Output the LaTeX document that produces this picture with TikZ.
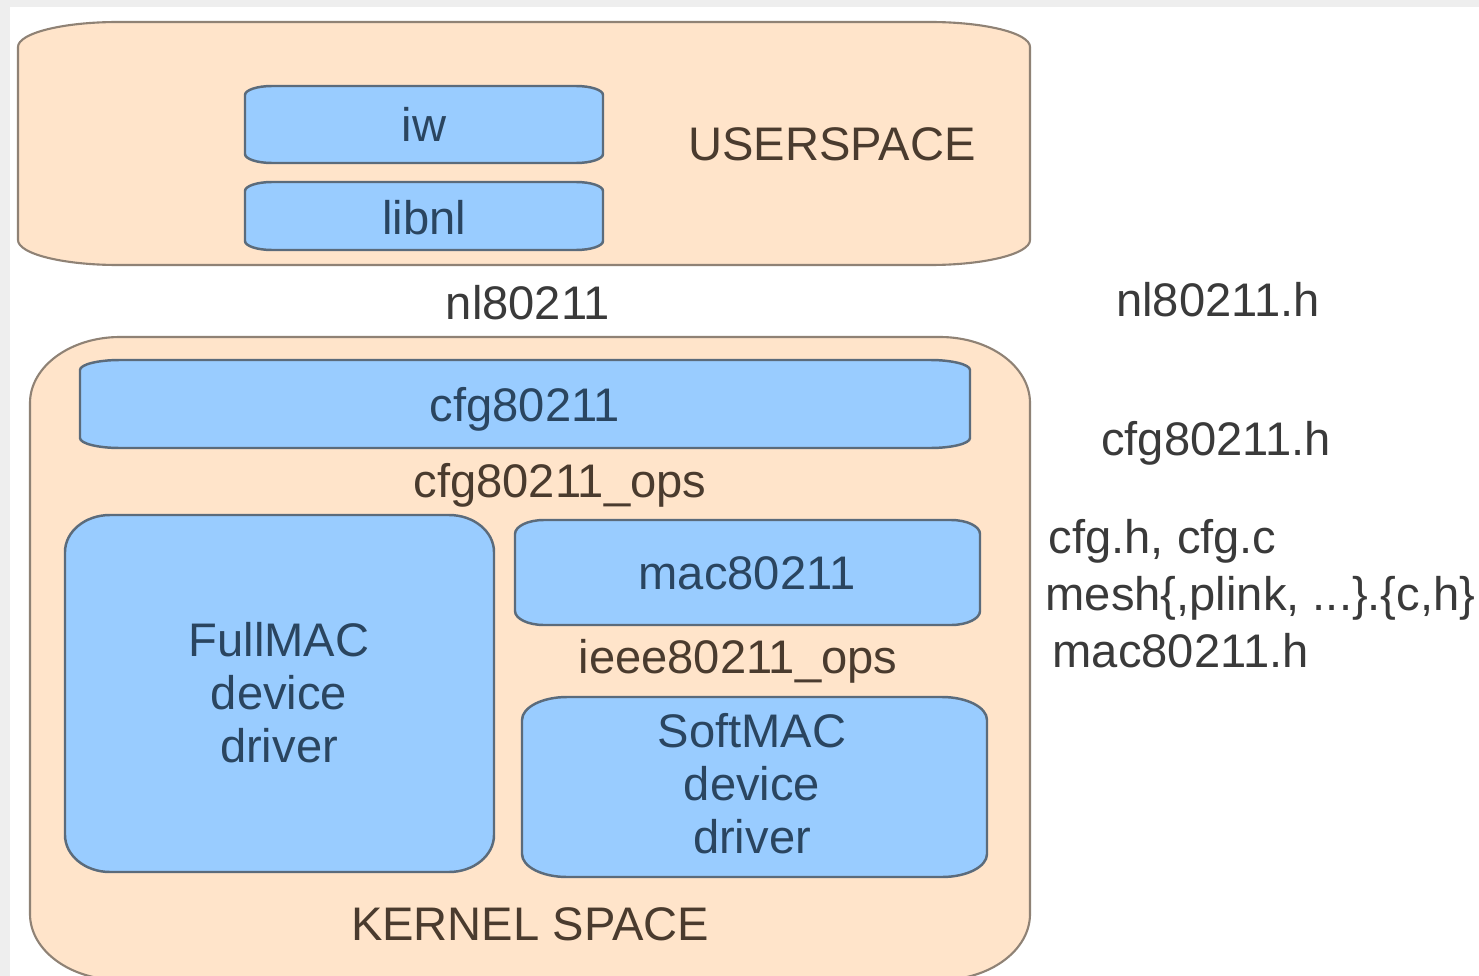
\documentclass[tikz,border=0pt]{standalone}
\usepackage{fontspec}
\setmainfont{Liberation Sans}
\usepackage{tikz}

\definecolor{peachfill}{HTML}{FFE4CA}
\definecolor{peachline}{HTML}{8F8275}
\definecolor{bluefill}{HTML}{99CCFF}
\definecolor{blueline}{HTML}{5B6B7B}
\definecolor{bluetext}{HTML}{2A4560}
\definecolor{browntext}{HTML}{4A3B2E}
\definecolor{greytext}{HTML}{3A3A3A}
\definecolor{frame}{HTML}{EEEEEE}

% box with flattened corners: style, x1, y1 (top), x2, y2 (bottom), rx, ry
\newcommand{\layerbox}[7]{%
  \draw[#1] ({#2+#6},#3) -- ({#4-#6},#3)
    arc[start angle=90, end angle=0, x radius=#6, y radius=#7]
    -- (#4,{#5+#7})
    arc[start angle=0, end angle=-90, x radius=#6, y radius=#7]
    -- ({#2+#6},#5)
    arc[start angle=270, end angle=180, x radius=#6, y radius=#7]
    -- (#2,{#3-#7})
    arc[start angle=180, end angle=90, x radius=#6, y radius=#7]
    -- cycle;}

\begin{document}
\begin{tikzpicture}[x=0.01cm, y=0.01cm,
    space/.style={fill=peachfill, draw=peachline, line width=0.6pt},
    part/.style={fill=bluefill, draw=blueline, line width=0.7pt},
    lbl/.style={inner sep=0pt, anchor=base, font=\fontsize{13.4}{15.1}\selectfont}]
            \useasboundingbox (0,0) rectangle (1479,-976);
            \fill [frame] (0,0) rectangle (1479,-976);
            \fill [white] (10,-7) rectangle (1479,-976);
            % userspace
            \layerbox{space}{18}{-22}{1030}{-265}{100}{25}
            \layerbox{part}{245}{-86}{603}{-163}{27}{9}
            \layerbox{part}{245}{-182}{603}{-250}{27}{9}
            \node [lbl, text=bluetext] (iw) at (424,-142) {iw};
            \node [lbl, text=bluetext] (libnl) at (424,-235) {libnl};
            \node [lbl, text=browntext] (userspace) at (832,-161) {USERSPACE};
            % netlink interface
            \node [lbl, text=greytext] (nlapi) at (528,-319) {nl80211};
            \node [lbl, text=greytext] (nlhdr) at (1218,-316) {nl80211.h};
            % kernel space
            \layerbox{space}{30}{-337}{1030}{-980}{90}{66}
            \layerbox{part}{80}{-360}{970}{-448}{40}{10}
            \layerbox{part}{65}{-515}{494}{-872}{45}{37}
            \layerbox{part}{515}{-520}{980}{-625}{29}{14}
            \layerbox{part}{522}{-697}{987}{-877}{45}{23}
            \node [lbl, text=bluetext] (cfg) at (525,-421) {cfg80211};
            \node [lbl, text=browntext] (cfgops) at (560,-497) {cfg80211\_ops};
            \node [lbl, text=bluetext, anchor=center, align=center] (fullmac) at (279,-693) {FullMAC\\device\\driver};
            \node [lbl, text=bluetext] (mac) at (747,-589) {mac80211};
            \node [lbl, text=browntext] (ieeeops) at (738,-673) {ieee80211\_ops};
            \node [lbl, text=bluetext, anchor=center, align=center] (softmac) at (752,-784) {SoftMAC\\device\\driver};
            \node [lbl, text=browntext] (kernel) at (530,-940) {KERNEL SPACE};
            % source files
            \node [lbl, text=greytext] (cfghdr) at (1216,-455) {cfg80211.h};
            \node [lbl, text=greytext, anchor=base west] (cfgsrc) at (1048,-553) {cfg.h, cfg.c};
            \node [lbl, text=greytext, anchor=base west] (meshsrc) at (1045,-610) {mesh\{,plink, ...\}.\{c,h\}};
            \node [lbl, text=greytext, anchor=base west] (machdr) at (1052,-667) {mac80211.h};
        \end{tikzpicture}
\end{document}
